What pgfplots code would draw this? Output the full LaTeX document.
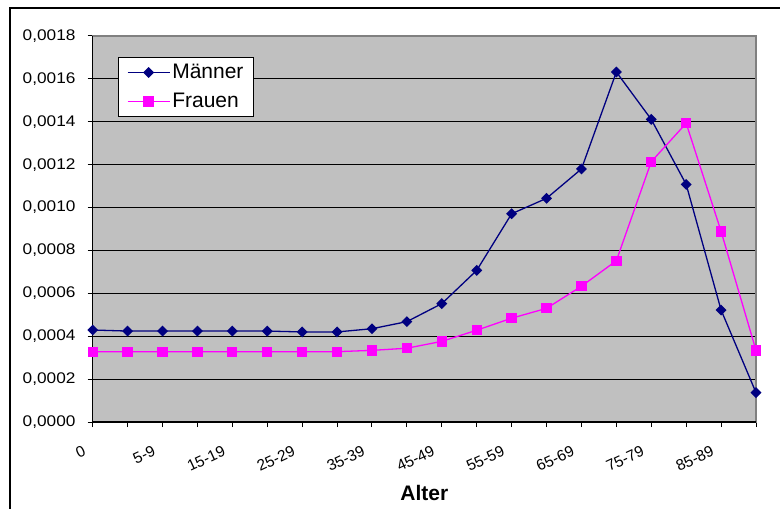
\documentclass[border=0pt]{standalone}
\usepackage{fontspec}
\setmainfont{Liberation Sans}
\newfontfamily\tickfont{Liberation Sans}[FakeStretch=1.12]
\usepackage{pgfplots}
\pgfplotsset{compat=1.18}
\definecolor{mnavy}{HTML}{000080}
\definecolor{mmag}{HTML}{FF00FF}
\definecolor{bggray}{HTML}{C0C0C0}
\definecolor{bordergray}{HTML}{808080}
\begin{document}
\begin{tikzpicture}
\path[use as bounding box] (0,0) rectangle (780pt,509pt);
\draw[line width=1.2pt] (10pt,-2pt) -- (10pt,501pt) -- (782pt,501pt);
\begin{axis}[
  at={(92.7pt,87pt)}, anchor=south west,
  scale only axis, width=663.3pt, height=386pt,
  xmin=0, xmax=19, ymin=0, ymax=0.0018,
  clip=false,
  xtick={0,...,19},
  xticklabels={0,,5-9,,15-19,,25-29,,35-39,,45-49,,55-59,,65-69,,75-79,,85-89,},
  ytick={0,0.0002,0.0004,0.0006,0.0008,0.0010,0.0012,0.0014,0.0016,0.0018},
  scaled y ticks=false,
  /pgf/number format/fixed,
  /pgf/number format/fixed zerofill,
  /pgf/number format/precision=4,
  /pgf/number format/use comma,
  /pgf/number format/assume math mode=true,
  yticklabel style={font=\tickfont\fontsize{15.4}{17}\selectfont, inner sep=0pt, anchor=east, xshift=-12pt},
  xticklabel style={font=\fontsize{15.5}{17}\selectfont, inner sep=0pt, xshift=-10.5pt, yshift=-18pt, rotate=25, anchor=north east},
  tick align=outside, major tick length=5pt,
  tick style={black, line width=1pt},
  xtick pos=left, ytick pos=left,
  ymajorgrids,
  major grid style={black, line width=1pt},
  axis background/.style={fill=bggray},
  axis line style={draw=bordergray, line width=1.3pt},
  xlabel={Alter},
  xlabel style={font=\bfseries\fontsize{21}{23}\selectfont, at={(axis description cs:0.5,-0.185)}, anchor=center},
  legend style={at={(0.0381,0.9456)}, anchor=north west, draw=black, fill=white, line width=1pt,
     font=\fontsize{21}{23}\selectfont, row sep=9pt, inner xsep=8.5pt, inner ysep=5pt},
  legend cell align=left,
  legend image code/.code={\draw[mark repeat=2, mark phase=2] plot coordinates {(0pt,0pt) (21pt,0pt) (42pt,0pt)};},
]
\addplot[color=mnavy, line width=1.3pt, mark=square*, mark size=3.2pt, mark options={rotate=45, fill=mnavy, draw=mnavy}]
coordinates {
(0,0.000429) (1,0.000424) (2,0.000424) (3,0.000424) (4,0.000424) (5,0.000424) (6,0.000420) (7,0.000420) (8,0.000435) (9,0.000468)
(10,0.000552) (11,0.000707) (12,0.000971) (13,0.001043) (14,0.001180) (15,0.001632) (16,0.001411) (17,0.001108) (18,0.000522) (19,0.000137)
};
\addlegendentry{Männer}
\addplot[color=mmag, line width=1.3pt, mark=square*, mark size=4.5pt, mark options={fill=mmag, draw=mmag}]
coordinates {
(0,0.000328) (1,0.000328) (2,0.000328) (3,0.000328) (4,0.000328) (5,0.000328) (6,0.000328) (7,0.000328) (8,0.000334) (9,0.000344)
(10,0.000376) (11,0.000428) (12,0.000484) (13,0.000530) (14,0.000633) (15,0.000752) (16,0.001214) (17,0.001393) (18,0.000889) (19,0.000334)
};
\addlegendentry{Frauen}
\draw[black, line width=1.3pt] (rel axis cs:0,1) -- (rel axis cs:0,0) -- (rel axis cs:1,0);
\end{axis}
\end{tikzpicture}
\end{document}
